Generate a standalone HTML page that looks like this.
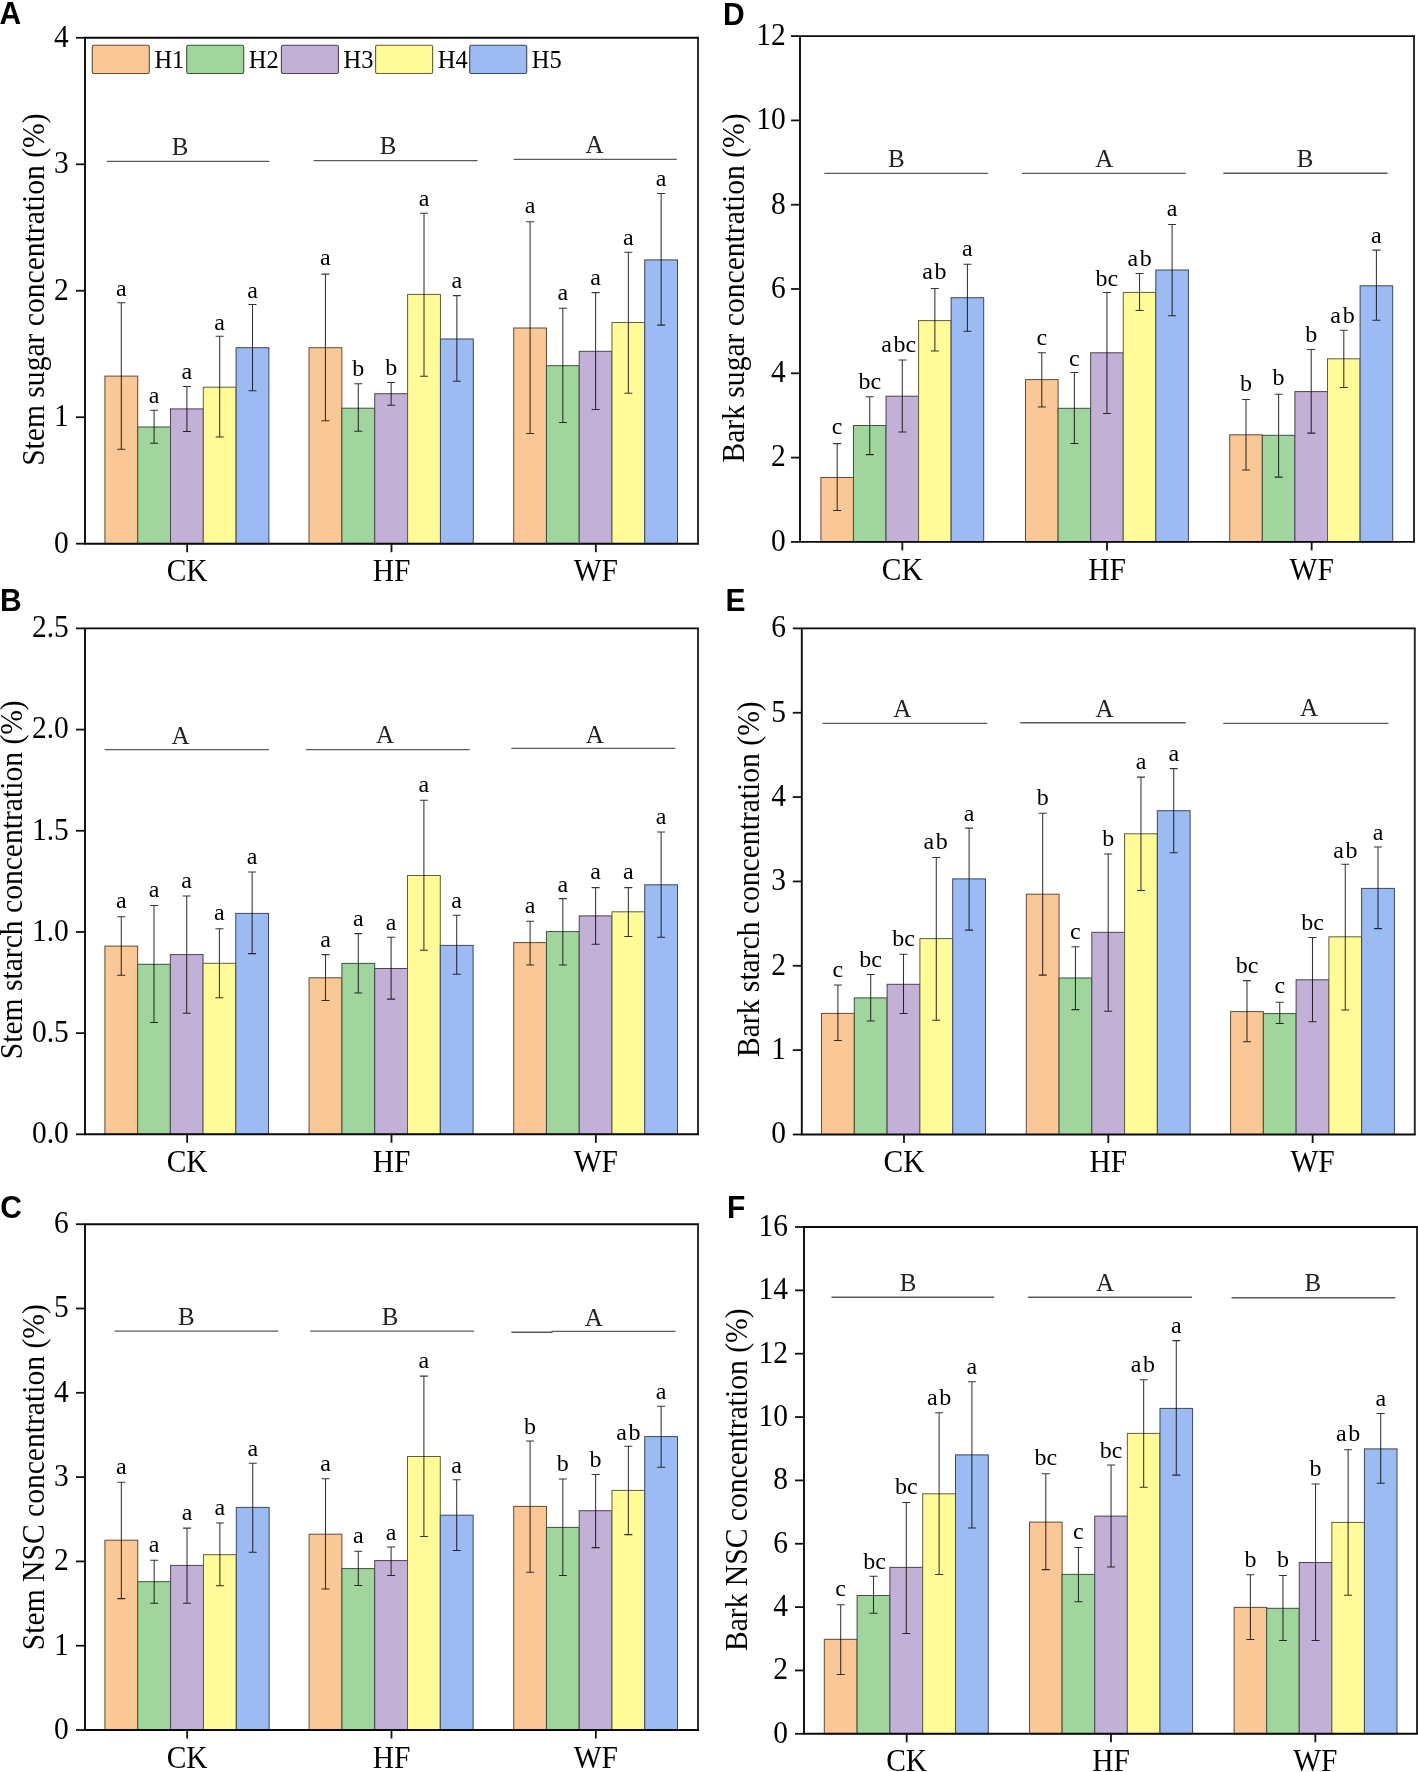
<!DOCTYPE html>
<html><head><meta charset="utf-8"><style>
html,body{margin:0;padding:0;background:#fff;}
svg{display:block;will-change:transform;}
text{font-family:"Liberation Serif", serif;fill:#000;}
.sig{font-size:24px;text-anchor:middle;}
.grp{font-size:25px;text-anchor:middle;fill:#222;}
.tick{font-size:29.5px;text-anchor:end;}
.cat{font-size:29.5px;text-anchor:middle;}
.ttl{font-size:29.6px;text-anchor:middle;}
.leg{font-size:24.5px;}
.pl{font-family:"Liberation Sans", sans-serif;font-weight:bold;font-size:30px;fill:#000;}
</style></head><body>
<svg width="1418" height="1772" viewBox="0 0 1418 1772">
<rect width="1418" height="1772" fill="#fff"/>
<rect x="104.9" y="376.1" width="32.8" height="167.6" fill="#FAC896" stroke="#5F4C39" stroke-width="1"/>
<rect x="137.7" y="427" width="32.8" height="116.7" fill="#A0D69D" stroke="#3D513C" stroke-width="1"/>
<rect x="170.5" y="408.9" width="32.8" height="134.8" fill="#C2B0D6" stroke="#4A4351" stroke-width="1"/>
<rect x="203.3" y="387.2" width="32.8" height="156.5" fill="#FEFB98" stroke="#615F3A" stroke-width="1"/>
<rect x="236.1" y="347.7" width="32.8" height="196" fill="#9BBBF2" stroke="#3B475C" stroke-width="1"/>
<path d="M121.3 302.8V449.2M117.3 302.8h8M117.3 449.2h8" stroke="#000" stroke-opacity="0.8" stroke-width="1.05" fill="none"/>
<text x="121.3" y="296.1" class="sig">a</text>
<path d="M154.1 410.2V443.2M150.1 410.2h8M150.1 443.2h8" stroke="#000" stroke-opacity="0.8" stroke-width="1.05" fill="none"/>
<text x="154.1" y="403.3" class="sig">a</text>
<path d="M186.9 386.5V431.4M182.9 386.5h8M182.9 431.4h8" stroke="#000" stroke-opacity="0.8" stroke-width="1.05" fill="none"/>
<text x="186.9" y="379.2" class="sig">a</text>
<path d="M219.7 336.3V437M215.7 336.3h8M215.7 437h8" stroke="#000" stroke-opacity="0.8" stroke-width="1.05" fill="none"/>
<text x="219.7" y="329.6" class="sig">a</text>
<path d="M252.5 304.4V390.7M248.5 304.4h8M248.5 390.7h8" stroke="#000" stroke-opacity="0.8" stroke-width="1.05" fill="none"/>
<text x="252.5" y="298.1" class="sig">a</text>
<rect x="309" y="347.7" width="32.86" height="196" fill="#FAC896" stroke="#5F4C39" stroke-width="1"/>
<rect x="341.86" y="408.2" width="32.86" height="135.5" fill="#A0D69D" stroke="#3D513C" stroke-width="1"/>
<rect x="374.72" y="393.7" width="32.86" height="150" fill="#C2B0D6" stroke="#4A4351" stroke-width="1"/>
<rect x="407.58" y="294.4" width="32.86" height="249.3" fill="#FEFB98" stroke="#615F3A" stroke-width="1"/>
<rect x="440.44" y="339" width="32.86" height="204.7" fill="#9BBBF2" stroke="#3B475C" stroke-width="1"/>
<path d="M325.43 274.1V420.8M321.43 274.1h8M321.43 420.8h8" stroke="#000" stroke-opacity="0.8" stroke-width="1.05" fill="none"/>
<text x="325.43" y="265.4" class="sig">a</text>
<path d="M358.29 383.8V431.2M354.29 383.8h8M354.29 431.2h8" stroke="#000" stroke-opacity="0.8" stroke-width="1.05" fill="none"/>
<text x="358.29" y="376.2" class="sig">b</text>
<path d="M391.15 382.4V405.2M387.15 382.4h8M387.15 405.2h8" stroke="#000" stroke-opacity="0.8" stroke-width="1.05" fill="none"/>
<text x="391.15" y="375.1" class="sig">b</text>
<path d="M424.01 213.2V376.2M420.01 213.2h8M420.01 376.2h8" stroke="#000" stroke-opacity="0.8" stroke-width="1.05" fill="none"/>
<text x="424.01" y="206" class="sig">a</text>
<path d="M456.87 295.6V381.2M452.87 295.6h8M452.87 381.2h8" stroke="#000" stroke-opacity="0.8" stroke-width="1.05" fill="none"/>
<text x="456.87" y="288.3" class="sig">a</text>
<rect x="513.7" y="328" width="32.76" height="215.7" fill="#FAC896" stroke="#5F4C39" stroke-width="1"/>
<rect x="546.46" y="365.7" width="32.76" height="178" fill="#A0D69D" stroke="#3D513C" stroke-width="1"/>
<rect x="579.22" y="351.3" width="32.76" height="192.4" fill="#C2B0D6" stroke="#4A4351" stroke-width="1"/>
<rect x="611.98" y="322.5" width="32.76" height="221.2" fill="#FEFB98" stroke="#615F3A" stroke-width="1"/>
<rect x="644.74" y="259.9" width="32.76" height="283.8" fill="#9BBBF2" stroke="#3B475C" stroke-width="1"/>
<path d="M530.08 221.8V433.5M526.08 221.8h8M526.08 433.5h8" stroke="#000" stroke-opacity="0.8" stroke-width="1.05" fill="none"/>
<text x="530.08" y="213.3" class="sig">a</text>
<path d="M562.84 308.2V422.4M558.84 308.2h8M558.84 422.4h8" stroke="#000" stroke-opacity="0.8" stroke-width="1.05" fill="none"/>
<text x="562.84" y="300.2" class="sig">a</text>
<path d="M595.6 292.6V409.4M591.6 292.6h8M591.6 409.4h8" stroke="#000" stroke-opacity="0.8" stroke-width="1.05" fill="none"/>
<text x="595.6" y="284.8" class="sig">a</text>
<path d="M628.36 252.3V393.3M624.36 252.3h8M624.36 393.3h8" stroke="#000" stroke-opacity="0.8" stroke-width="1.05" fill="none"/>
<text x="628.36" y="244.7" class="sig">a</text>
<path d="M661.12 193.5V325.1M657.12 193.5h8M657.12 325.1h8" stroke="#000" stroke-opacity="0.8" stroke-width="1.05" fill="none"/>
<text x="661.12" y="186.2" class="sig">a</text>
<line x1="107.2" y1="161.3" x2="268.9" y2="161.3" stroke="#5a5a5a" stroke-width="1.35" stroke-linecap="round"/>
<text x="180.15" y="155" class="grp">B</text>
<line x1="314.1" y1="160.6" x2="477.1" y2="160.6" stroke="#5a5a5a" stroke-width="1.35" stroke-linecap="round"/>
<text x="388.15" y="153.8" class="grp">B</text>
<line x1="514.1" y1="159.3" x2="676.3" y2="159.3" stroke="#5a5a5a" stroke-width="1.35" stroke-linecap="round"/>
<text x="594.6" y="152.8" class="grp">A</text>
<path d="M698 37.8V543.7" stroke="#303030" stroke-width="2" fill="none"/>
<path d="M85 37.8H698M85 37.8V543.7H698" stroke="#0a0a0a" stroke-width="1.9" fill="none" stroke-linecap="square"/>
<line x1="76" y1="543.7" x2="85" y2="543.7" stroke="#111" stroke-width="1.8"/>
<text transform="translate(68.7 552.5) scale(1 1.055)" class="tick">0</text>
<line x1="76" y1="417.23" x2="85" y2="417.23" stroke="#111" stroke-width="1.8"/>
<text transform="translate(68.7 426.03) scale(1 1.055)" class="tick">1</text>
<line x1="76" y1="290.75" x2="85" y2="290.75" stroke="#111" stroke-width="1.8"/>
<text transform="translate(68.7 299.55) scale(1 1.055)" class="tick">2</text>
<line x1="76" y1="164.28" x2="85" y2="164.28" stroke="#111" stroke-width="1.8"/>
<text transform="translate(68.7 173.08) scale(1 1.055)" class="tick">3</text>
<line x1="76" y1="37.8" x2="85" y2="37.8" stroke="#111" stroke-width="1.8"/>
<text transform="translate(68.7 46.6) scale(1 1.055)" class="tick">4</text>
<line x1="187.17" y1="543.7" x2="187.17" y2="552.2" stroke="#111" stroke-width="1.8"/>
<text transform="translate(187.17 581.3) scale(1 1.055)" class="cat">CK</text>
<line x1="391.5" y1="543.7" x2="391.5" y2="552.2" stroke="#111" stroke-width="1.8"/>
<text transform="translate(391.5 581.3) scale(1 1.055)" class="cat">HF</text>
<line x1="595.83" y1="543.7" x2="595.83" y2="552.2" stroke="#111" stroke-width="1.8"/>
<text transform="translate(595.83 581.3) scale(1 1.055)" class="cat">WF</text>
<text transform="translate(43.5 289.65) rotate(-90) scale(1 1.055)" class="ttl">Stem sugar concentration (%)</text>
<text transform="translate(-0.6 24.4) scale(1 1.025)" class="pl">A</text>
<rect x="104.9" y="946.1" width="32.72" height="188.2" fill="#FAC896" stroke="#5F4C39" stroke-width="1"/>
<rect x="137.62" y="964.3" width="32.72" height="170" fill="#A0D69D" stroke="#3D513C" stroke-width="1"/>
<rect x="170.34" y="954.6" width="32.72" height="179.7" fill="#C2B0D6" stroke="#4A4351" stroke-width="1"/>
<rect x="203.06" y="963.3" width="32.72" height="171" fill="#FEFB98" stroke="#615F3A" stroke-width="1"/>
<rect x="235.78" y="913.4" width="32.72" height="220.9" fill="#9BBBF2" stroke="#3B475C" stroke-width="1"/>
<path d="M121.26 916.8V975.3M117.26 916.8h8M117.26 975.3h8" stroke="#000" stroke-opacity="0.8" stroke-width="1.05" fill="none"/>
<text x="121.26" y="908.3" class="sig">a</text>
<path d="M153.98 905.4V1022.5M149.98 905.4h8M149.98 1022.5h8" stroke="#000" stroke-opacity="0.8" stroke-width="1.05" fill="none"/>
<text x="153.98" y="897" class="sig">a</text>
<path d="M186.7 896V1013.3M182.7 896h8M182.7 1013.3h8" stroke="#000" stroke-opacity="0.8" stroke-width="1.05" fill="none"/>
<text x="186.7" y="887.6" class="sig">a</text>
<path d="M219.42 928.7V997.7M215.42 928.7h8M215.42 997.7h8" stroke="#000" stroke-opacity="0.8" stroke-width="1.05" fill="none"/>
<text x="219.42" y="920.4" class="sig">a</text>
<path d="M252.14 871.9V953.6M248.14 871.9h8M248.14 953.6h8" stroke="#000" stroke-opacity="0.8" stroke-width="1.05" fill="none"/>
<text x="252.14" y="864.1" class="sig">a</text>
<rect x="309.1" y="977.8" width="32.8" height="156.5" fill="#FAC896" stroke="#5F4C39" stroke-width="1"/>
<rect x="341.9" y="963.4" width="32.8" height="170.9" fill="#A0D69D" stroke="#3D513C" stroke-width="1"/>
<rect x="374.7" y="968.5" width="32.8" height="165.8" fill="#C2B0D6" stroke="#4A4351" stroke-width="1"/>
<rect x="407.5" y="875.5" width="32.8" height="258.8" fill="#FEFB98" stroke="#615F3A" stroke-width="1"/>
<rect x="440.3" y="945.4" width="32.8" height="188.9" fill="#9BBBF2" stroke="#3B475C" stroke-width="1"/>
<path d="M325.5 954.6V1000.4M321.5 954.6h8M321.5 1000.4h8" stroke="#000" stroke-opacity="0.8" stroke-width="1.05" fill="none"/>
<text x="325.5" y="947.2" class="sig">a</text>
<path d="M358.3 933.6V993M354.3 933.6h8M354.3 993h8" stroke="#000" stroke-opacity="0.8" stroke-width="1.05" fill="none"/>
<text x="358.3" y="926.3" class="sig">a</text>
<path d="M391.1 937.2V999.1M387.1 937.2h8M387.1 999.1h8" stroke="#000" stroke-opacity="0.8" stroke-width="1.05" fill="none"/>
<text x="391.1" y="929.5" class="sig">a</text>
<path d="M423.9 800.3V950.3M419.9 800.3h8M419.9 950.3h8" stroke="#000" stroke-opacity="0.8" stroke-width="1.05" fill="none"/>
<text x="423.9" y="792.1" class="sig">a</text>
<path d="M456.7 915.3V974.2M452.7 915.3h8M452.7 974.2h8" stroke="#000" stroke-opacity="0.8" stroke-width="1.05" fill="none"/>
<text x="456.7" y="908.3" class="sig">a</text>
<rect x="513.7" y="942.6" width="32.76" height="191.7" fill="#FAC896" stroke="#5F4C39" stroke-width="1"/>
<rect x="546.46" y="931.6" width="32.76" height="202.7" fill="#A0D69D" stroke="#3D513C" stroke-width="1"/>
<rect x="579.22" y="915.9" width="32.76" height="218.4" fill="#C2B0D6" stroke="#4A4351" stroke-width="1"/>
<rect x="611.98" y="911.8" width="32.76" height="222.5" fill="#FEFB98" stroke="#615F3A" stroke-width="1"/>
<rect x="644.74" y="884.8" width="32.76" height="249.5" fill="#9BBBF2" stroke="#3B475C" stroke-width="1"/>
<path d="M530.08 921.2V965M526.08 921.2h8M526.08 965h8" stroke="#000" stroke-opacity="0.8" stroke-width="1.05" fill="none"/>
<text x="530.08" y="913" class="sig">a</text>
<path d="M562.84 898.6V965M558.84 898.6h8M558.84 965h8" stroke="#000" stroke-opacity="0.8" stroke-width="1.05" fill="none"/>
<text x="562.84" y="891.7" class="sig">a</text>
<path d="M595.6 887.6V944.2M591.6 887.6h8M591.6 944.2h8" stroke="#000" stroke-opacity="0.8" stroke-width="1.05" fill="none"/>
<text x="595.6" y="878.8" class="sig">a</text>
<path d="M628.36 887.6V936.4M624.36 887.6h8M624.36 936.4h8" stroke="#000" stroke-opacity="0.8" stroke-width="1.05" fill="none"/>
<text x="628.36" y="878.8" class="sig">a</text>
<path d="M661.12 832V937.2M657.12 832h8M657.12 937.2h8" stroke="#000" stroke-opacity="0.8" stroke-width="1.05" fill="none"/>
<text x="661.12" y="824.2" class="sig">a</text>
<line x1="105.3" y1="749.6" x2="268.4" y2="749.6" stroke="#5a5a5a" stroke-width="1.35" stroke-linecap="round"/>
<text x="180.65" y="743.6" class="grp">A</text>
<line x1="306.4" y1="749.6" x2="469.2" y2="749.6" stroke="#5a5a5a" stroke-width="1.35" stroke-linecap="round"/>
<text x="385.15" y="743.2" class="grp">A</text>
<line x1="511.8" y1="748.3" x2="675" y2="748.3" stroke="#5a5a5a" stroke-width="1.35" stroke-linecap="round"/>
<text x="594.7" y="742.9" class="grp">A</text>
<path d="M698 628.4V1134.3" stroke="#303030" stroke-width="2" fill="none"/>
<path d="M85 628.4H698M85 628.4V1134.3H698" stroke="#0a0a0a" stroke-width="1.9" fill="none" stroke-linecap="square"/>
<line x1="76" y1="1134.3" x2="85" y2="1134.3" stroke="#111" stroke-width="1.8"/>
<text transform="translate(68.8 1143.1) scale(1 1.055)" class="tick">0.0</text>
<line x1="76" y1="1033.12" x2="85" y2="1033.12" stroke="#111" stroke-width="1.8"/>
<text transform="translate(68.8 1041.92) scale(1 1.055)" class="tick">0.5</text>
<line x1="76" y1="931.94" x2="85" y2="931.94" stroke="#111" stroke-width="1.8"/>
<text transform="translate(68.8 940.74) scale(1 1.055)" class="tick">1.0</text>
<line x1="76" y1="830.76" x2="85" y2="830.76" stroke="#111" stroke-width="1.8"/>
<text transform="translate(68.8 839.56) scale(1 1.055)" class="tick">1.5</text>
<line x1="76" y1="729.58" x2="85" y2="729.58" stroke="#111" stroke-width="1.8"/>
<text transform="translate(68.8 738.38) scale(1 1.055)" class="tick">2.0</text>
<line x1="76" y1="628.4" x2="85" y2="628.4" stroke="#111" stroke-width="1.8"/>
<text transform="translate(68.8 637.2) scale(1 1.055)" class="tick">2.5</text>
<line x1="187.17" y1="1134.3" x2="187.17" y2="1142.8" stroke="#111" stroke-width="1.8"/>
<text transform="translate(187.17 1171.9) scale(1 1.055)" class="cat">CK</text>
<line x1="391.5" y1="1134.3" x2="391.5" y2="1142.8" stroke="#111" stroke-width="1.8"/>
<text transform="translate(391.5 1171.9) scale(1 1.055)" class="cat">HF</text>
<line x1="595.83" y1="1134.3" x2="595.83" y2="1142.8" stroke="#111" stroke-width="1.8"/>
<text transform="translate(595.83 1171.9) scale(1 1.055)" class="cat">WF</text>
<text transform="translate(21.9 879.75) rotate(-90) scale(1 1.055)" class="ttl">Stem starch concentration (%)</text>
<text transform="translate(0.1 611) scale(1 1.025)" class="pl">B</text>
<rect x="104.9" y="1540.2" width="32.85" height="189.8" fill="#FAC896" stroke="#5F4C39" stroke-width="1"/>
<rect x="137.75" y="1581.7" width="32.85" height="148.3" fill="#A0D69D" stroke="#3D513C" stroke-width="1"/>
<rect x="170.6" y="1565.4" width="32.85" height="164.6" fill="#C2B0D6" stroke="#4A4351" stroke-width="1"/>
<rect x="203.45" y="1554.7" width="32.85" height="175.3" fill="#FEFB98" stroke="#615F3A" stroke-width="1"/>
<rect x="236.3" y="1507.4" width="32.85" height="222.6" fill="#9BBBF2" stroke="#3B475C" stroke-width="1"/>
<path d="M121.33 1482.3V1598.6M117.33 1482.3h8M117.33 1598.6h8" stroke="#000" stroke-opacity="0.8" stroke-width="1.05" fill="none"/>
<text x="121.33" y="1473.9" class="sig">a</text>
<path d="M154.18 1560.3V1603.2M150.18 1560.3h8M150.18 1603.2h8" stroke="#000" stroke-opacity="0.8" stroke-width="1.05" fill="none"/>
<text x="154.18" y="1552" class="sig">a</text>
<path d="M187.03 1528.1V1603.2M183.03 1528.1h8M183.03 1603.2h8" stroke="#000" stroke-opacity="0.8" stroke-width="1.05" fill="none"/>
<text x="187.03" y="1519.8" class="sig">a</text>
<path d="M219.88 1522.9V1585.8M215.88 1522.9h8M215.88 1585.8h8" stroke="#000" stroke-opacity="0.8" stroke-width="1.05" fill="none"/>
<text x="219.88" y="1515.1" class="sig">a</text>
<path d="M252.73 1463.3V1552.3M248.73 1463.3h8M248.73 1552.3h8" stroke="#000" stroke-opacity="0.8" stroke-width="1.05" fill="none"/>
<text x="252.73" y="1455.5" class="sig">a</text>
<rect x="309.1" y="1534.2" width="32.8" height="195.8" fill="#FAC896" stroke="#5F4C39" stroke-width="1"/>
<rect x="341.9" y="1568.6" width="32.8" height="161.4" fill="#A0D69D" stroke="#3D513C" stroke-width="1"/>
<rect x="374.7" y="1560.6" width="32.8" height="169.4" fill="#C2B0D6" stroke="#4A4351" stroke-width="1"/>
<rect x="407.5" y="1456.5" width="32.8" height="273.5" fill="#FEFB98" stroke="#615F3A" stroke-width="1"/>
<rect x="440.3" y="1515.2" width="32.8" height="214.8" fill="#9BBBF2" stroke="#3B475C" stroke-width="1"/>
<path d="M325.5 1478.8V1588.9M321.5 1478.8h8M321.5 1588.9h8" stroke="#000" stroke-opacity="0.8" stroke-width="1.05" fill="none"/>
<text x="325.5" y="1470.9" class="sig">a</text>
<path d="M358.3 1551.3V1585.5M354.3 1551.3h8M354.3 1585.5h8" stroke="#000" stroke-opacity="0.8" stroke-width="1.05" fill="none"/>
<text x="358.3" y="1542.8" class="sig">a</text>
<path d="M391.1 1546.9V1575.4M387.1 1546.9h8M387.1 1575.4h8" stroke="#000" stroke-opacity="0.8" stroke-width="1.05" fill="none"/>
<text x="391.1" y="1539.8" class="sig">a</text>
<path d="M423.9 1376.1V1536.4M419.9 1376.1h8M419.9 1536.4h8" stroke="#000" stroke-opacity="0.8" stroke-width="1.05" fill="none"/>
<text x="423.9" y="1367.6" class="sig">a</text>
<path d="M456.7 1479.7V1550.5M452.7 1479.7h8M452.7 1550.5h8" stroke="#000" stroke-opacity="0.8" stroke-width="1.05" fill="none"/>
<text x="456.7" y="1472.6" class="sig">a</text>
<rect x="513.7" y="1506.4" width="32.76" height="223.6" fill="#FAC896" stroke="#5F4C39" stroke-width="1"/>
<rect x="546.46" y="1527.4" width="32.76" height="202.6" fill="#A0D69D" stroke="#3D513C" stroke-width="1"/>
<rect x="579.22" y="1510.7" width="32.76" height="219.3" fill="#C2B0D6" stroke="#4A4351" stroke-width="1"/>
<rect x="611.98" y="1490.4" width="32.76" height="239.6" fill="#FEFB98" stroke="#615F3A" stroke-width="1"/>
<rect x="644.74" y="1436.6" width="32.76" height="293.4" fill="#9BBBF2" stroke="#3B475C" stroke-width="1"/>
<path d="M530.08 1440.9V1572.3M526.08 1440.9h8M526.08 1572.3h8" stroke="#000" stroke-opacity="0.8" stroke-width="1.05" fill="none"/>
<text x="530.08" y="1434" class="sig">b</text>
<path d="M562.84 1479V1575.5M558.84 1479h8M558.84 1575.5h8" stroke="#000" stroke-opacity="0.8" stroke-width="1.05" fill="none"/>
<text x="562.84" y="1471.4" class="sig">b</text>
<path d="M595.6 1474.4V1547.6M591.6 1474.4h8M591.6 1547.6h8" stroke="#000" stroke-opacity="0.8" stroke-width="1.05" fill="none"/>
<text x="595.6" y="1466.8" class="sig">b</text>
<path d="M628.36 1446.2V1534.6M624.36 1446.2h8M624.36 1534.6h8" stroke="#000" stroke-opacity="0.8" stroke-width="1.05" fill="none"/>
<text x="628.36" y="1439.8" class="sig">a<tspan dx="1.6">b</tspan></text>
<path d="M661.12 1406.3V1467.2M657.12 1406.3h8M657.12 1467.2h8" stroke="#000" stroke-opacity="0.8" stroke-width="1.05" fill="none"/>
<text x="661.12" y="1398.7" class="sig">a</text>
<line x1="115.2" y1="1331.1" x2="277.7" y2="1331.1" stroke="#5a5a5a" stroke-width="1.35" stroke-linecap="round"/>
<text x="186.45" y="1324.8" class="grp">B</text>
<line x1="310.7" y1="1331.1" x2="473.7" y2="1331.1" stroke="#5a5a5a" stroke-width="1.35" stroke-linecap="round"/>
<text x="390.1" y="1325.1" class="grp">B</text>
<path d="M511.8 1332.2H552M552 1331.4H675" stroke="#5a5a5a" stroke-width="1.35" stroke-linecap="round" fill="none"/>
<text x="593.9" y="1325.6" class="grp">A</text>
<path d="M698 1224.2V1730" stroke="#303030" stroke-width="2" fill="none"/>
<path d="M85 1224.2H698M85 1224.2V1730H698" stroke="#0a0a0a" stroke-width="1.9" fill="none" stroke-linecap="square"/>
<line x1="76" y1="1730" x2="85" y2="1730" stroke="#111" stroke-width="1.8"/>
<text transform="translate(68.8 1738.8) scale(1 1.055)" class="tick">0</text>
<line x1="76" y1="1645.7" x2="85" y2="1645.7" stroke="#111" stroke-width="1.8"/>
<text transform="translate(68.8 1654.5) scale(1 1.055)" class="tick">1</text>
<line x1="76" y1="1561.4" x2="85" y2="1561.4" stroke="#111" stroke-width="1.8"/>
<text transform="translate(68.8 1570.2) scale(1 1.055)" class="tick">2</text>
<line x1="76" y1="1477.1" x2="85" y2="1477.1" stroke="#111" stroke-width="1.8"/>
<text transform="translate(68.8 1485.9) scale(1 1.055)" class="tick">3</text>
<line x1="76" y1="1392.8" x2="85" y2="1392.8" stroke="#111" stroke-width="1.8"/>
<text transform="translate(68.8 1401.6) scale(1 1.055)" class="tick">4</text>
<line x1="76" y1="1308.5" x2="85" y2="1308.5" stroke="#111" stroke-width="1.8"/>
<text transform="translate(68.8 1317.3) scale(1 1.055)" class="tick">5</text>
<line x1="76" y1="1224.2" x2="85" y2="1224.2" stroke="#111" stroke-width="1.8"/>
<text transform="translate(68.8 1233) scale(1 1.055)" class="tick">6</text>
<line x1="187.17" y1="1730" x2="187.17" y2="1738.5" stroke="#111" stroke-width="1.8"/>
<text transform="translate(187.17 1767.6) scale(1 1.055)" class="cat">CK</text>
<line x1="391.5" y1="1730" x2="391.5" y2="1738.5" stroke="#111" stroke-width="1.8"/>
<text transform="translate(391.5 1767.6) scale(1 1.055)" class="cat">HF</text>
<line x1="595.83" y1="1730" x2="595.83" y2="1738.5" stroke="#111" stroke-width="1.8"/>
<text transform="translate(595.83 1767.6) scale(1 1.055)" class="cat">WF</text>
<text transform="translate(44 1477.2) rotate(-90) scale(1 1.055)" class="ttl">Stem NSC concentration (%)</text>
<text transform="translate(0.3 1218.1) scale(1 1.025)" class="pl">C</text>
<rect x="820.9" y="477.5" width="32.56" height="64.4" fill="#FAC896" stroke="#5F4C39" stroke-width="1"/>
<rect x="853.46" y="425.5" width="32.56" height="116.4" fill="#A0D69D" stroke="#3D513C" stroke-width="1"/>
<rect x="886.02" y="396.2" width="32.56" height="145.7" fill="#C2B0D6" stroke="#4A4351" stroke-width="1"/>
<rect x="918.58" y="320.6" width="32.56" height="221.3" fill="#FEFB98" stroke="#615F3A" stroke-width="1"/>
<rect x="951.14" y="297.7" width="32.56" height="244.2" fill="#9BBBF2" stroke="#3B475C" stroke-width="1"/>
<path d="M837.18 443.6V510.5M833.18 443.6h8M833.18 510.5h8" stroke="#000" stroke-opacity="0.8" stroke-width="1.05" fill="none"/>
<text x="837.18" y="434.3" class="sig">c</text>
<path d="M869.74 396.7V454.6M865.74 396.7h8M865.74 454.6h8" stroke="#000" stroke-opacity="0.8" stroke-width="1.05" fill="none"/>
<text x="869.74" y="389.1" class="sig">bc</text>
<path d="M902.3 360V431.9M898.3 360h8M898.3 431.9h8" stroke="#000" stroke-opacity="0.8" stroke-width="1.05" fill="none"/>
<text x="898.7" y="351.9" class="sig">a<tspan dx="1.6">bc</tspan></text>
<path d="M934.86 288.4V351M930.86 288.4h8M930.86 351h8" stroke="#000" stroke-opacity="0.8" stroke-width="1.05" fill="none"/>
<text x="934.26" y="279.4" class="sig">a<tspan dx="1.6">b</tspan></text>
<path d="M967.42 264.2V331.2M963.42 264.2h8M963.42 331.2h8" stroke="#000" stroke-opacity="0.8" stroke-width="1.05" fill="none"/>
<text x="967.42" y="256.2" class="sig">a</text>
<rect x="1025.5" y="379.6" width="32.58" height="162.3" fill="#FAC896" stroke="#5F4C39" stroke-width="1"/>
<rect x="1058.08" y="408.3" width="32.58" height="133.6" fill="#A0D69D" stroke="#3D513C" stroke-width="1"/>
<rect x="1090.66" y="352.8" width="32.58" height="189.1" fill="#C2B0D6" stroke="#4A4351" stroke-width="1"/>
<rect x="1123.24" y="292.4" width="32.58" height="249.5" fill="#FEFB98" stroke="#615F3A" stroke-width="1"/>
<rect x="1155.82" y="270" width="32.58" height="271.9" fill="#9BBBF2" stroke="#3B475C" stroke-width="1"/>
<path d="M1041.79 352.8V407M1037.79 352.8h8M1037.79 407h8" stroke="#000" stroke-opacity="0.8" stroke-width="1.05" fill="none"/>
<text x="1041.79" y="344.9" class="sig">c</text>
<path d="M1074.37 372.5V443.4M1070.37 372.5h8M1070.37 443.4h8" stroke="#000" stroke-opacity="0.8" stroke-width="1.05" fill="none"/>
<text x="1074.37" y="365.5" class="sig">c</text>
<path d="M1106.95 292.4V413.4M1102.95 292.4h8M1102.95 413.4h8" stroke="#000" stroke-opacity="0.8" stroke-width="1.05" fill="none"/>
<text x="1106.95" y="285.6" class="sig">bc</text>
<path d="M1139.53 273.4V310.5M1135.53 273.4h8M1135.53 310.5h8" stroke="#000" stroke-opacity="0.8" stroke-width="1.05" fill="none"/>
<text x="1139.53" y="265.7" class="sig">a<tspan dx="1.6">b</tspan></text>
<path d="M1172.11 224.4V315.8M1168.11 224.4h8M1168.11 315.8h8" stroke="#000" stroke-opacity="0.8" stroke-width="1.05" fill="none"/>
<text x="1172.11" y="215.9" class="sig">a</text>
<rect x="1229.7" y="434.8" width="32.6" height="107.1" fill="#FAC896" stroke="#5F4C39" stroke-width="1"/>
<rect x="1262.3" y="435.3" width="32.6" height="106.6" fill="#A0D69D" stroke="#3D513C" stroke-width="1"/>
<rect x="1294.9" y="391.6" width="32.6" height="150.3" fill="#C2B0D6" stroke="#4A4351" stroke-width="1"/>
<rect x="1327.5" y="358.8" width="32.6" height="183.1" fill="#FEFB98" stroke="#615F3A" stroke-width="1"/>
<rect x="1360.1" y="285.8" width="32.6" height="256.1" fill="#9BBBF2" stroke="#3B475C" stroke-width="1"/>
<path d="M1246 399.4V470M1242 399.4h8M1242 470h8" stroke="#000" stroke-opacity="0.8" stroke-width="1.05" fill="none"/>
<text x="1246" y="391.3" class="sig">b</text>
<path d="M1278.6 394.3V477.1M1274.6 394.3h8M1274.6 477.1h8" stroke="#000" stroke-opacity="0.8" stroke-width="1.05" fill="none"/>
<text x="1278.6" y="385" class="sig">b</text>
<path d="M1311.2 349.5V433.1M1307.2 349.5h8M1307.2 433.1h8" stroke="#000" stroke-opacity="0.8" stroke-width="1.05" fill="none"/>
<text x="1311.2" y="341.8" class="sig">b</text>
<path d="M1343.8 330.3V387.4M1339.8 330.3h8M1339.8 387.4h8" stroke="#000" stroke-opacity="0.8" stroke-width="1.05" fill="none"/>
<text x="1342.5" y="323.1" class="sig">a<tspan dx="1.6">b</tspan></text>
<path d="M1376.4 250.1V320.2M1372.4 250.1h8M1372.4 320.2h8" stroke="#000" stroke-opacity="0.8" stroke-width="1.05" fill="none"/>
<text x="1376.4" y="243.2" class="sig">a</text>
<line x1="824.8" y1="173.3" x2="987.6" y2="173.3" stroke="#5a5a5a" stroke-width="1.35" stroke-linecap="round"/>
<text x="896.35" y="167.2" class="grp">B</text>
<line x1="1022.3" y1="173.3" x2="1185.3" y2="173.3" stroke="#5a5a5a" stroke-width="1.35" stroke-linecap="round"/>
<text x="1104.35" y="167.3" class="grp">A</text>
<line x1="1223.8" y1="173.2" x2="1387.1" y2="173.2" stroke="#5a5a5a" stroke-width="1.35" stroke-linecap="round"/>
<text x="1305.05" y="166.9" class="grp">B</text>
<path d="M1414 36.1V541.9" stroke="#303030" stroke-width="2" fill="none"/>
<path d="M800 36.1H1414M800 36.1V541.9H1414" stroke="#0a0a0a" stroke-width="1.9" fill="none" stroke-linecap="square"/>
<line x1="791" y1="541.9" x2="800" y2="541.9" stroke="#111" stroke-width="1.8"/>
<text transform="translate(785.7 550.7) scale(1 1.055)" class="tick">0</text>
<line x1="791" y1="457.6" x2="800" y2="457.6" stroke="#111" stroke-width="1.8"/>
<text transform="translate(785.7 466.4) scale(1 1.055)" class="tick">2</text>
<line x1="791" y1="373.3" x2="800" y2="373.3" stroke="#111" stroke-width="1.8"/>
<text transform="translate(785.7 382.1) scale(1 1.055)" class="tick">4</text>
<line x1="791" y1="289" x2="800" y2="289" stroke="#111" stroke-width="1.8"/>
<text transform="translate(785.7 297.8) scale(1 1.055)" class="tick">6</text>
<line x1="791" y1="204.7" x2="800" y2="204.7" stroke="#111" stroke-width="1.8"/>
<text transform="translate(785.7 213.5) scale(1 1.055)" class="tick">8</text>
<line x1="791" y1="120.4" x2="800" y2="120.4" stroke="#111" stroke-width="1.8"/>
<text transform="translate(785.7 129.2) scale(1 1.055)" class="tick">10</text>
<line x1="791" y1="36.1" x2="800" y2="36.1" stroke="#111" stroke-width="1.8"/>
<text transform="translate(785.7 44.9) scale(1 1.055)" class="tick">12</text>
<line x1="902.33" y1="541.9" x2="902.33" y2="550.4" stroke="#111" stroke-width="1.8"/>
<text transform="translate(902.33 579.5) scale(1 1.055)" class="cat">CK</text>
<line x1="1107" y1="541.9" x2="1107" y2="550.4" stroke="#111" stroke-width="1.8"/>
<text transform="translate(1107 579.5) scale(1 1.055)" class="cat">HF</text>
<line x1="1311.67" y1="541.9" x2="1311.67" y2="550.4" stroke="#111" stroke-width="1.8"/>
<text transform="translate(1311.67 579.5) scale(1 1.055)" class="cat">WF</text>
<text transform="translate(744.4 288) rotate(-90) scale(1 1.055)" class="ttl">Bark sugar concentration (%)</text>
<text transform="translate(722.9 24.5) scale(1 1.025)" class="pl">D</text>
<rect x="821.5" y="1013.4" width="32.8" height="121.1" fill="#FAC896" stroke="#5F4C39" stroke-width="1"/>
<rect x="854.3" y="997.9" width="32.8" height="136.6" fill="#A0D69D" stroke="#3D513C" stroke-width="1"/>
<rect x="887.1" y="984.3" width="32.8" height="150.2" fill="#C2B0D6" stroke="#4A4351" stroke-width="1"/>
<rect x="919.9" y="938.6" width="32.8" height="195.9" fill="#FEFB98" stroke="#615F3A" stroke-width="1"/>
<rect x="952.7" y="878.9" width="32.8" height="255.6" fill="#9BBBF2" stroke="#3B475C" stroke-width="1"/>
<path d="M837.9 985V1040.5M833.9 985h8M833.9 1040.5h8" stroke="#000" stroke-opacity="0.8" stroke-width="1.05" fill="none"/>
<text x="837.9" y="976.7" class="sig">c</text>
<path d="M870.7 974.5V1021M866.7 974.5h8M866.7 1021h8" stroke="#000" stroke-opacity="0.8" stroke-width="1.05" fill="none"/>
<text x="870.7" y="966.5" class="sig">bc</text>
<path d="M903.5 954.2V1013.4M899.5 954.2h8M899.5 1013.4h8" stroke="#000" stroke-opacity="0.8" stroke-width="1.05" fill="none"/>
<text x="903.5" y="945.7" class="sig">bc</text>
<path d="M936.3 857.4V1020.2M932.3 857.4h8M932.3 1020.2h8" stroke="#000" stroke-opacity="0.8" stroke-width="1.05" fill="none"/>
<text x="935.7" y="849.2" class="sig">a<tspan dx="1.6">b</tspan></text>
<path d="M969.1 828.1V930.1M965.1 828.1h8M965.1 930.1h8" stroke="#000" stroke-opacity="0.8" stroke-width="1.05" fill="none"/>
<text x="969.1" y="820.5" class="sig">a</text>
<rect x="1026.3" y="894.2" width="32.76" height="240.3" fill="#FAC896" stroke="#5F4C39" stroke-width="1"/>
<rect x="1059.06" y="978" width="32.76" height="156.5" fill="#A0D69D" stroke="#3D513C" stroke-width="1"/>
<rect x="1091.82" y="932.3" width="32.76" height="202.2" fill="#C2B0D6" stroke="#4A4351" stroke-width="1"/>
<rect x="1124.58" y="833.8" width="32.76" height="300.7" fill="#FEFB98" stroke="#615F3A" stroke-width="1"/>
<rect x="1157.34" y="810.7" width="32.76" height="323.8" fill="#9BBBF2" stroke="#3B475C" stroke-width="1"/>
<path d="M1042.68 813.3V975.1M1038.68 813.3h8M1038.68 975.1h8" stroke="#000" stroke-opacity="0.8" stroke-width="1.05" fill="none"/>
<text x="1042.68" y="804.5" class="sig">b</text>
<path d="M1075.44 946.7V1009.6M1071.44 946.7h8M1071.44 1009.6h8" stroke="#000" stroke-opacity="0.8" stroke-width="1.05" fill="none"/>
<text x="1075.44" y="939" class="sig">c</text>
<path d="M1108.2 853.9V1011.3M1104.2 853.9h8M1104.2 1011.3h8" stroke="#000" stroke-opacity="0.8" stroke-width="1.05" fill="none"/>
<text x="1108.2" y="845.9" class="sig">b</text>
<path d="M1140.96 777.1V890.5M1136.96 777.1h8M1136.96 890.5h8" stroke="#000" stroke-opacity="0.8" stroke-width="1.05" fill="none"/>
<text x="1140.96" y="769.3" class="sig">a</text>
<path d="M1173.72 768.6V852.7M1169.72 768.6h8M1169.72 852.7h8" stroke="#000" stroke-opacity="0.8" stroke-width="1.05" fill="none"/>
<text x="1173.72" y="760.8" class="sig">a</text>
<rect x="1230.6" y="1011.6" width="32.76" height="122.9" fill="#FAC896" stroke="#5F4C39" stroke-width="1"/>
<rect x="1263.36" y="1013.6" width="32.76" height="120.9" fill="#A0D69D" stroke="#3D513C" stroke-width="1"/>
<rect x="1296.12" y="979.8" width="32.76" height="154.7" fill="#C2B0D6" stroke="#4A4351" stroke-width="1"/>
<rect x="1328.88" y="936.8" width="32.76" height="197.7" fill="#FEFB98" stroke="#615F3A" stroke-width="1"/>
<rect x="1361.64" y="888.4" width="32.76" height="246.1" fill="#9BBBF2" stroke="#3B475C" stroke-width="1"/>
<path d="M1246.98 980.6V1041.7M1242.98 980.6h8M1242.98 1041.7h8" stroke="#000" stroke-opacity="0.8" stroke-width="1.05" fill="none"/>
<text x="1246.98" y="972.6" class="sig">bc</text>
<path d="M1279.74 1002.3V1023.4M1275.74 1002.3h8M1275.74 1023.4h8" stroke="#000" stroke-opacity="0.8" stroke-width="1.05" fill="none"/>
<text x="1279.74" y="993" class="sig">c</text>
<path d="M1312.5 937.4V1021.7M1308.5 937.4h8M1308.5 1021.7h8" stroke="#000" stroke-opacity="0.8" stroke-width="1.05" fill="none"/>
<text x="1312.5" y="929.5" class="sig">bc</text>
<path d="M1345.26 864.3V1009.9M1341.26 864.3h8M1341.26 1009.9h8" stroke="#000" stroke-opacity="0.8" stroke-width="1.05" fill="none"/>
<text x="1345.26" y="857.5" class="sig">a<tspan dx="1.6">b</tspan></text>
<path d="M1378.02 846.9V928.6M1374.02 846.9h8M1374.02 928.6h8" stroke="#000" stroke-opacity="0.8" stroke-width="1.05" fill="none"/>
<text x="1378.02" y="840.1" class="sig">a</text>
<line x1="823.1" y1="723.3" x2="986.7" y2="723.3" stroke="#5a5a5a" stroke-width="1.35" stroke-linecap="round"/>
<text x="902.4" y="716.7" class="grp">A</text>
<line x1="1020.6" y1="722.7" x2="1185.3" y2="722.7" stroke="#5a5a5a" stroke-width="1.35" stroke-linecap="round"/>
<text x="1104.65" y="716.7" class="grp">A</text>
<line x1="1223.8" y1="723.4" x2="1387.9" y2="723.4" stroke="#5a5a5a" stroke-width="1.35" stroke-linecap="round"/>
<text x="1309.15" y="716.1" class="grp">A</text>
<path d="M1414.8 628.4V1134.5" stroke="#303030" stroke-width="2" fill="none"/>
<path d="M801.8 628.4H1414.8M801.8 628.4V1134.5H1414.8" stroke="#0a0a0a" stroke-width="1.9" fill="none" stroke-linecap="square"/>
<line x1="792.8" y1="1134.5" x2="801.8" y2="1134.5" stroke="#111" stroke-width="1.8"/>
<text transform="translate(786 1143.3) scale(1 1.055)" class="tick">0</text>
<line x1="792.8" y1="1050.15" x2="801.8" y2="1050.15" stroke="#111" stroke-width="1.8"/>
<text transform="translate(786 1058.95) scale(1 1.055)" class="tick">1</text>
<line x1="792.8" y1="965.8" x2="801.8" y2="965.8" stroke="#111" stroke-width="1.8"/>
<text transform="translate(786 974.6) scale(1 1.055)" class="tick">2</text>
<line x1="792.8" y1="881.45" x2="801.8" y2="881.45" stroke="#111" stroke-width="1.8"/>
<text transform="translate(786 890.25) scale(1 1.055)" class="tick">3</text>
<line x1="792.8" y1="797.1" x2="801.8" y2="797.1" stroke="#111" stroke-width="1.8"/>
<text transform="translate(786 805.9) scale(1 1.055)" class="tick">4</text>
<line x1="792.8" y1="712.75" x2="801.8" y2="712.75" stroke="#111" stroke-width="1.8"/>
<text transform="translate(786 721.55) scale(1 1.055)" class="tick">5</text>
<line x1="792.8" y1="628.4" x2="801.8" y2="628.4" stroke="#111" stroke-width="1.8"/>
<text transform="translate(786 637.2) scale(1 1.055)" class="tick">6</text>
<line x1="903.97" y1="1134.5" x2="903.97" y2="1143" stroke="#111" stroke-width="1.8"/>
<text transform="translate(903.97 1172.1) scale(1 1.055)" class="cat">CK</text>
<line x1="1108.3" y1="1134.5" x2="1108.3" y2="1143" stroke="#111" stroke-width="1.8"/>
<text transform="translate(1108.3 1172.1) scale(1 1.055)" class="cat">HF</text>
<line x1="1312.63" y1="1134.5" x2="1312.63" y2="1143" stroke="#111" stroke-width="1.8"/>
<text transform="translate(1312.63 1172.1) scale(1 1.055)" class="cat">WF</text>
<text transform="translate(758.6 879.2) rotate(-90) scale(1 1.055)" class="ttl">Bark starch concentration (%)</text>
<text transform="translate(725.4 610.9) scale(1 1.025)" class="pl">E</text>
<rect x="824.3" y="1639.3" width="32.8" height="94.5" fill="#FAC896" stroke="#5F4C39" stroke-width="1"/>
<rect x="857.1" y="1595.5" width="32.8" height="138.3" fill="#A0D69D" stroke="#3D513C" stroke-width="1"/>
<rect x="889.9" y="1567.4" width="32.8" height="166.4" fill="#C2B0D6" stroke="#4A4351" stroke-width="1"/>
<rect x="922.7" y="1493.8" width="32.8" height="240" fill="#FEFB98" stroke="#615F3A" stroke-width="1"/>
<rect x="955.5" y="1454.9" width="32.8" height="278.9" fill="#9BBBF2" stroke="#3B475C" stroke-width="1"/>
<path d="M840.7 1604.7V1674.5M836.7 1604.7h8M836.7 1674.5h8" stroke="#000" stroke-opacity="0.8" stroke-width="1.05" fill="none"/>
<text x="840.7" y="1595.9" class="sig">c</text>
<path d="M873.5 1576.3V1613.2M869.5 1576.3h8M869.5 1613.2h8" stroke="#000" stroke-opacity="0.8" stroke-width="1.05" fill="none"/>
<text x="874.7" y="1568.9" class="sig">bc</text>
<path d="M906.3 1502.4V1633.5M902.3 1502.4h8M902.3 1633.5h8" stroke="#000" stroke-opacity="0.8" stroke-width="1.05" fill="none"/>
<text x="906.3" y="1494.4" class="sig">bc</text>
<path d="M939.1 1412.8V1574.5M935.1 1412.8h8M935.1 1574.5h8" stroke="#000" stroke-opacity="0.8" stroke-width="1.05" fill="none"/>
<text x="939.1" y="1404.6" class="sig">a<tspan dx="1.6">b</tspan></text>
<path d="M971.9 1381.7V1527.9M967.9 1381.7h8M967.9 1527.9h8" stroke="#000" stroke-opacity="0.8" stroke-width="1.05" fill="none"/>
<text x="971.9" y="1374.2" class="sig">a</text>
<rect x="1029.5" y="1522.1" width="32.62" height="211.7" fill="#FAC896" stroke="#5F4C39" stroke-width="1"/>
<rect x="1062.12" y="1574.4" width="32.62" height="159.4" fill="#A0D69D" stroke="#3D513C" stroke-width="1"/>
<rect x="1094.74" y="1516.1" width="32.62" height="217.7" fill="#C2B0D6" stroke="#4A4351" stroke-width="1"/>
<rect x="1127.36" y="1433.4" width="32.62" height="300.4" fill="#FEFB98" stroke="#615F3A" stroke-width="1"/>
<rect x="1159.98" y="1408.4" width="32.62" height="325.4" fill="#9BBBF2" stroke="#3B475C" stroke-width="1"/>
<path d="M1045.81 1473.8V1569.6M1041.81 1473.8h8M1041.81 1569.6h8" stroke="#000" stroke-opacity="0.8" stroke-width="1.05" fill="none"/>
<text x="1045.81" y="1465.4" class="sig">bc</text>
<path d="M1078.43 1547.4V1601.8M1074.43 1547.4h8M1074.43 1601.8h8" stroke="#000" stroke-opacity="0.8" stroke-width="1.05" fill="none"/>
<text x="1078.43" y="1539" class="sig">c</text>
<path d="M1111.05 1464.9V1567M1107.05 1464.9h8M1107.05 1567h8" stroke="#000" stroke-opacity="0.8" stroke-width="1.05" fill="none"/>
<text x="1111.05" y="1458" class="sig">bc</text>
<path d="M1143.67 1379.7V1487.2M1139.67 1379.7h8M1139.67 1487.2h8" stroke="#000" stroke-opacity="0.8" stroke-width="1.05" fill="none"/>
<text x="1142.87" y="1371.7" class="sig">a<tspan dx="1.6">b</tspan></text>
<path d="M1176.29 1340.6V1475.1M1172.29 1340.6h8M1172.29 1475.1h8" stroke="#000" stroke-opacity="0.8" stroke-width="1.05" fill="none"/>
<text x="1176.29" y="1332.6" class="sig">a</text>
<rect x="1234.1" y="1607.4" width="32.58" height="126.4" fill="#FAC896" stroke="#5F4C39" stroke-width="1"/>
<rect x="1266.68" y="1608.3" width="32.58" height="125.5" fill="#A0D69D" stroke="#3D513C" stroke-width="1"/>
<rect x="1299.26" y="1562.5" width="32.58" height="171.3" fill="#C2B0D6" stroke="#4A4351" stroke-width="1"/>
<rect x="1331.84" y="1522.4" width="32.58" height="211.4" fill="#FEFB98" stroke="#615F3A" stroke-width="1"/>
<rect x="1364.42" y="1448.9" width="32.58" height="284.9" fill="#9BBBF2" stroke="#3B475C" stroke-width="1"/>
<path d="M1250.39 1574.8V1639.4M1246.39 1574.8h8M1246.39 1639.4h8" stroke="#000" stroke-opacity="0.8" stroke-width="1.05" fill="none"/>
<text x="1250.39" y="1567.3" class="sig">b</text>
<path d="M1282.97 1575.5V1640.4M1278.97 1575.5h8M1278.97 1640.4h8" stroke="#000" stroke-opacity="0.8" stroke-width="1.05" fill="none"/>
<text x="1282.97" y="1566.8" class="sig">b</text>
<path d="M1315.55 1483.9V1640.4M1311.55 1483.9h8M1311.55 1640.4h8" stroke="#000" stroke-opacity="0.8" stroke-width="1.05" fill="none"/>
<text x="1315.55" y="1476.4" class="sig">b</text>
<path d="M1348.13 1449.8V1595.3M1344.13 1449.8h8M1344.13 1595.3h8" stroke="#000" stroke-opacity="0.8" stroke-width="1.05" fill="none"/>
<text x="1348.13" y="1441" class="sig">a<tspan dx="1.6">b</tspan></text>
<path d="M1380.71 1413.5V1483.3M1376.71 1413.5h8M1376.71 1483.3h8" stroke="#000" stroke-opacity="0.8" stroke-width="1.05" fill="none"/>
<text x="1380.71" y="1406.2" class="sig">a</text>
<line x1="831.9" y1="1297.2" x2="993.8" y2="1297.2" stroke="#5a5a5a" stroke-width="1.35" stroke-linecap="round"/>
<text x="908.2" y="1290.5" class="grp">B</text>
<line x1="1028.5" y1="1297.2" x2="1191.5" y2="1297.2" stroke="#5a5a5a" stroke-width="1.35" stroke-linecap="round"/>
<text x="1104.95" y="1290.5" class="grp">A</text>
<line x1="1232" y1="1297.7" x2="1394.9" y2="1297.7" stroke="#5a5a5a" stroke-width="1.35" stroke-linecap="round"/>
<text x="1312.75" y="1290.6" class="grp">B</text>
<path d="M1417 1227V1733.8" stroke="#303030" stroke-width="2" fill="none"/>
<path d="M804 1227H1417M804 1227V1733.8H1417" stroke="#0a0a0a" stroke-width="1.9" fill="none" stroke-linecap="square"/>
<line x1="795" y1="1733.8" x2="804" y2="1733.8" stroke="#111" stroke-width="1.8"/>
<text transform="translate(788 1742.6) scale(1 1.055)" class="tick">0</text>
<line x1="795" y1="1670.45" x2="804" y2="1670.45" stroke="#111" stroke-width="1.8"/>
<text transform="translate(788 1679.25) scale(1 1.055)" class="tick">2</text>
<line x1="795" y1="1607.1" x2="804" y2="1607.1" stroke="#111" stroke-width="1.8"/>
<text transform="translate(788 1615.9) scale(1 1.055)" class="tick">4</text>
<line x1="795" y1="1543.75" x2="804" y2="1543.75" stroke="#111" stroke-width="1.8"/>
<text transform="translate(788 1552.55) scale(1 1.055)" class="tick">6</text>
<line x1="795" y1="1480.4" x2="804" y2="1480.4" stroke="#111" stroke-width="1.8"/>
<text transform="translate(788 1489.2) scale(1 1.055)" class="tick">8</text>
<line x1="795" y1="1417.05" x2="804" y2="1417.05" stroke="#111" stroke-width="1.8"/>
<text transform="translate(788 1425.85) scale(1 1.055)" class="tick">10</text>
<line x1="795" y1="1353.7" x2="804" y2="1353.7" stroke="#111" stroke-width="1.8"/>
<text transform="translate(788 1362.5) scale(1 1.055)" class="tick">12</text>
<line x1="795" y1="1290.35" x2="804" y2="1290.35" stroke="#111" stroke-width="1.8"/>
<text transform="translate(788 1299.15) scale(1 1.055)" class="tick">14</text>
<line x1="795" y1="1227" x2="804" y2="1227" stroke="#111" stroke-width="1.8"/>
<text transform="translate(788 1235.8) scale(1 1.055)" class="tick">16</text>
<line x1="906.67" y1="1733.8" x2="906.67" y2="1742.3" stroke="#111" stroke-width="1.8"/>
<text transform="translate(906.67 1771.4) scale(1 1.055)" class="cat">CK</text>
<line x1="1111" y1="1733.8" x2="1111" y2="1742.3" stroke="#111" stroke-width="1.8"/>
<text transform="translate(1111 1771.4) scale(1 1.055)" class="cat">HF</text>
<line x1="1315.33" y1="1733.8" x2="1315.33" y2="1742.3" stroke="#111" stroke-width="1.8"/>
<text transform="translate(1315.33 1771.4) scale(1 1.055)" class="cat">WF</text>
<text transform="translate(747.3 1479.75) rotate(-90) scale(1 1.055)" class="ttl">Bark NSC concentration (%)</text>
<text transform="translate(727 1218.1) scale(1 1.025)" class="pl">F</text>
<rect x="92.3" y="45.3" width="57" height="28.2" rx="1.5" fill="#FAC896" stroke="#5F4C39" stroke-width="1.1"/>
<text x="154.4" y="68.1" class="leg">H1</text>
<rect x="186.7" y="45.3" width="57" height="28.2" rx="1.5" fill="#A0D69D" stroke="#3D513C" stroke-width="1.1"/>
<text x="248.8" y="68.1" class="leg">H2</text>
<rect x="281.4" y="45.3" width="57" height="28.2" rx="1.5" fill="#C2B0D6" stroke="#4A4351" stroke-width="1.1"/>
<text x="343.5" y="68.1" class="leg">H3</text>
<rect x="375.6" y="45.3" width="57" height="28.2" rx="1.5" fill="#FEFB98" stroke="#615F3A" stroke-width="1.1"/>
<text x="437.7" y="68.1" class="leg">H4</text>
<rect x="469.7" y="45.3" width="57" height="28.2" rx="1.5" fill="#9BBBF2" stroke="#3B475C" stroke-width="1.1"/>
<text x="531.8" y="68.1" class="leg">H5</text>
</svg>
</body></html>
